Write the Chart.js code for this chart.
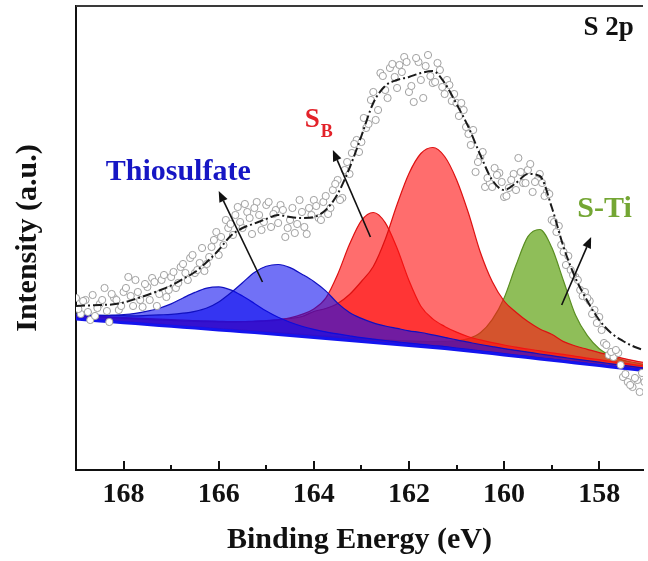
<!DOCTYPE html>
<html>
<head>
<meta charset="utf-8">
<script src="https://cdn.jsdelivr.net/npm/chart.js@4.4.1/dist/chart.umd.min.js"></script>
<style>
  html, body { margin: 0; padding: 0; background: #fff; }
  canvas { display: block; }
</style>
</head>
<body>
<canvas id="xpsChart" width="648" height="561"></canvas>
<script>
// energy grid of the fitted curves (eV)
const energy = [169, 168.75, 168.5, 168.25, 168, 167.75, 167.5, 167.25, 167, 166.75, 166.5, 166.25,
  166, 165.75, 165.5, 165.25, 165, 164.75, 164.5, 164.25, 164, 163.75, 163.5, 163.25,
  163, 162.75, 162.5, 162.25, 162, 161.75, 161.5, 161.25, 161, 160.75, 160.5, 160.25,
  160, 159.75, 159.5, 159.25, 159, 158.75, 158.5, 158.25, 158, 157.75, 157.5, 157.25, 157];

// background under the peaks
const background = [1510, 1500, 1490, 1482, 1473, 1464, 1455, 1446, 1437, 1428, 1419, 1410,
  1401, 1392, 1383, 1374, 1365, 1355, 1345, 1335, 1325, 1315, 1305, 1295,
  1285, 1275, 1265, 1255, 1245, 1235, 1225, 1215, 1203, 1190, 1177, 1164,
  1150, 1137, 1124, 1110, 1097, 1084, 1070, 1057, 1044, 1030, 1017, 1004, 990];

// fitted components, height above the background
const thioA = [39, 47, 56, 67, 82, 103, 133, 172, 224, 292, 357, 409,
  430, 409, 357, 292, 224, 172, 133, 103, 82, 67, 56, 47,
  39, 34, 30, 27, 24, 22, 20, 19, 17, 16, 15, 14,
  13, 12, 12, 11, 11, 10, 10, 9, 9, 8, 8, 7, 7];
const thioB = [49, 53, 56, 63, 70, 77, 91, 105, 119, 140, 168, 210,
  280, 378, 490, 602, 672, 700, 679, 623, 560, 476, 364, 280,
  231, 196, 175, 161, 147, 140, 126, 112, 98, 88, 78, 70,
  64, 60, 55, 50, 46, 42, 39, 36, 34, 32, 29, 28, 27];
const sbA = [39, 42, 46, 48, 52, 55, 59, 62, 66, 72, 75, 81,
  86, 91, 100, 110, 124, 143, 176, 221, 286, 403, 650, 962,
  1209, 1300, 1209, 962, 650, 403, 286, 221, 176, 143, 124, 110,
  100, 91, 86, 81, 75, 72, 66, 62, 59, 55, 52, 48, 46];
const sbB = [36, 38, 40, 42, 44, 47, 50, 54, 58, 62, 68, 74,
  80, 88, 100, 116, 130, 150, 170, 200, 260, 300, 360, 460,
  600, 760, 1040, 1400, 1720, 1930, 2000, 1920, 1700, 1380, 1000, 720,
  540, 440, 360, 300, 260, 200, 170, 150, 130, 116, 100, 88, 80];
const sTi = [8, 9, 9, 10, 10, 11, 11, 12, 12, 13, 13, 14,
  14, 15, 16, 16, 17, 18, 20, 21, 22, 23, 25, 27,
  30, 34, 36, 40, 46, 52, 60, 72, 88, 124, 195, 340,
  570, 910, 1210, 1295, 1130, 806, 480, 286, 169, 113, 82, 69, 59];

// envelope of the fit
const envelope = [1640, 1645, 1650, 1655, 1675, 1710, 1750, 1795, 1845, 1910, 1980, 2080,
  2200, 2340, 2420, 2465, 2510, 2550, 2530, 2520, 2530, 2600, 2760, 3020,
  3340, 3670, 3840, 3900, 3930, 3970, 3990, 3870, 3660, 3430, 3150, 2900,
  2800, 2870, 2960, 2940, 2630, 2230, 1920, 1690, 1500, 1370, 1290, 1230, 1190];

// measured points
const rawEnergy = [169.0, 168.9, 168.8, 168.7, 168.6, 168.5, 168.4, 168.3, 168.2, 168.1,
  168.0, 167.9, 167.8, 167.7, 167.6, 167.5, 167.4, 167.3, 167.2, 167.1,
  167.0, 166.9, 166.8, 166.7, 166.6, 166.5, 166.4, 166.3, 166.2, 166.1,
  166.0, 165.9, 165.8, 165.7, 165.6, 165.5, 165.4, 165.3, 165.2, 165.1,
  165.0, 164.9, 164.8, 164.7, 164.6, 164.5, 164.4, 164.3, 164.2, 164.1,
  164.0, 163.9, 163.8, 163.7, 163.6, 163.5, 163.4, 163.3, 163.2, 163.1,
  163.0, 162.9, 162.8, 162.7, 162.6, 162.5, 162.4, 162.3, 162.2, 162.1,
  162.0, 161.9, 161.8, 161.7, 161.6, 161.5, 161.4, 161.3, 161.2, 161.1,
  161.0, 160.9, 160.8, 160.7, 160.6, 160.5, 160.4, 160.3, 160.2, 160.1,
  160.0, 159.9, 159.8, 159.7, 159.6, 159.5, 159.4, 159.3, 159.2, 159.1,
  159.0, 158.9, 158.8, 158.7, 158.6, 158.5, 158.4, 158.3, 158.2, 158.1,
  158.0, 157.9, 157.8, 157.7, 157.6, 157.5, 157.4, 157.3, 157.2, 157.1, 157.0,
  168.95, 168.85, 168.75, 168.65, 168.55, 168.45, 168.35, 168.25, 168.15, 168.05,
  167.95, 167.85, 167.75, 167.65, 167.55, 167.45, 167.35, 167.25, 167.15, 167.05,
  166.95, 166.85, 166.75, 166.65, 166.55, 166.45, 166.35, 166.25, 166.15, 166.05,
  165.95, 165.85, 165.75, 165.65, 165.55, 165.45, 165.35, 165.25, 165.15, 165.05,
  164.95, 164.85, 164.75, 164.65, 164.55, 164.45, 164.35, 164.25, 164.15, 164.05,
  163.95, 163.85, 163.75, 163.65, 163.55, 163.45, 163.35, 163.25, 163.15, 163.05,
  162.95, 162.85, 162.75, 162.65, 162.55, 162.45, 162.35, 162.25, 162.15, 162.05,
  161.95, 161.85, 161.75, 161.65, 161.55, 161.45, 161.35, 161.25, 161.15, 161.05,
  160.95, 160.85, 160.75, 160.65, 160.55, 160.45, 160.35, 160.25, 160.15, 160.05,
  159.95, 159.85, 159.75, 159.65, 159.55, 159.45, 159.35, 159.25, 159.15, 159.05,
  158.95, 158.85, 158.75, 158.65, 158.55, 158.45, 158.35, 158.25, 158.15, 158.05,
  157.95, 157.85, 157.75, 157.65, 157.55, 157.45, 157.35, 157.25, 157.15, 157.05];
const rawCounts = [1720, 1560, 1700, 1500, 1540, 1660, 1820, 1480, 1720, 1600,
  1780, 1930, 1640, 1780, 1630, 1830, 1920, 1640, 1900, 1730,
  1930, 1820, 2030, 1970, 2120, 1970, 2070, 1990, 2130, 2300,
  2150, 2250, 2420, 2350, 2630, 2420, 2580, 2360, 2680, 2400,
  2650, 2430, 2600, 2650, 2330, 2500, 2370, 2700, 2430, 2620,
  2700, 2520, 2680, 2560, 2800, 2900, 2720, 3080, 3170, 3300,
  3280, 3420, 3700, 3500, 3970, 3800, 4020, 3930, 4050, 4130,
  3780, 3680, 4080, 3720, 4150, 3870, 4070, 3830, 3900, 3690,
  3670, 3670, 3430, 3250, 2980, 3130, 2830, 2870, 3020, 2970,
  2730, 2820, 2960, 3120, 2870, 3000, 2780, 2900, 2870, 2780,
  2500, 2380, 2250, 2050, 2000, 1930, 1800, 1780, 1690, 1600,
  1530, 1270, 1150, 1130, 1170, 930, 880, 830, 900, 970, 780,
  1610, 1690, 1580, 1750, 1620, 1700, 1590, 1760, 1700, 1640,
  1820, 1740, 1900, 1700, 1860, 1700, 1880, 1760, 1950, 1800,
  1980, 1870, 2060, 1900, 2150, 2000, 2220, 2060, 2230, 2380,
  2330, 2500, 2460, 2550, 2480, 2660, 2520, 2620, 2550, 2480,
  2680, 2560, 2470, 2600, 2420, 2620, 2460, 2580, 2360, 2550,
  2640, 2500, 2740, 2620, 2860, 2700, 3000, 2960, 3260, 3180,
  3520, 3460, 3780, 3600, 3940, 3720, 4060, 3820, 3980, 4080,
  3840, 4120, 3900, 4040, 3940, 3880, 4000, 3760, 3850, 3760,
  3540, 3600, 3360, 3400, 3080, 3180, 2920, 2830, 2950, 2880,
  2740, 2900, 2800, 2980, 2870, 3060, 2880, 2960, 2740, 2760,
  2480, 2440, 2180, 2140, 1950, 1900, 1740, 1720, 1560, 1470,
  1400, 1250, 1180, 1200, 1050, 960, 850, 920, 780, 880];

// x axis ticks (even ones labelled)
const xTicks = [168, 167, 166, 165, 164, 163, 162, 161, 160, 159, 158];

const serif = "'Liberation Serif', 'Times New Roman', serif";

const pts = (vals, base) => energy.map((e, i) => ({ x: e, y: vals[i] + (base ? base[i] : 0) }));

// text and arrows drawn over the plot, in data units
const notes = [
  { text: 'Thiosulfate', e: 168.375, v: 2900, color: '#1616c4', size: 30 },
  { text: 'S-Ti', e: 158.46, v: 2530, color: '#74a634', size: 30 },
  { text: 'S 2p', e: 158.33, v: 4350, color: '#111111', size: 27 }
];
const arrows = [
  { from: [165.08, 1880], to: [166.0, 2790] },
  { from: [162.81, 2330], to: [163.6, 3200] },
  { from: [158.79, 1650], to: [158.17, 2330] }
];

const overlay = {
  id: 'overlay',
  afterDraw(chart) {
    const { ctx, chartArea, scales: { x, y } } = chart;
    ctx.save();
    // top frame line
    ctx.strokeStyle = '#3a3a3a';
    ctx.lineWidth = 2;
    ctx.beginPath();
    ctx.moveTo(chartArea.left, chartArea.top);
    ctx.lineTo(chartArea.right, chartArea.top);
    ctx.stroke();
    // inward tick marks
    ctx.strokeStyle = '#111';
    ctx.lineWidth = 2;
    xTicks.forEach(t => {
      const px = Math.round(x.getPixelForValue(t));
      const len = t % 2 === 0 ? 9 : 5;
      ctx.beginPath();
      ctx.moveTo(px, chartArea.bottom);
      ctx.lineTo(px, chartArea.bottom - len);
      ctx.stroke();
    });
    // arrows
    ctx.strokeStyle = '#111';
    ctx.fillStyle = '#111';
    ctx.lineWidth = 1.6;
    arrows.forEach(a => {
      const x0 = x.getPixelForValue(a.from[0]), y0 = y.getPixelForValue(a.from[1]);
      const x1 = x.getPixelForValue(a.to[0]), y1 = y.getPixelForValue(a.to[1]);
      const ang = Math.atan2(y1 - y0, x1 - x0);
      const hl = 11, hw = 4.5;
      const bx = x1 - hl * Math.cos(ang), by = y1 - hl * Math.sin(ang);
      ctx.beginPath();
      ctx.moveTo(x0, y0);
      ctx.lineTo(bx, by);
      ctx.stroke();
      ctx.beginPath();
      ctx.moveTo(x1, y1);
      ctx.lineTo(bx + hw * Math.sin(ang), by - hw * Math.cos(ang));
      ctx.lineTo(bx - hw * Math.sin(ang), by + hw * Math.cos(ang));
      ctx.closePath();
      ctx.fill();
    });
    // labels
    ctx.textBaseline = 'alphabetic';
    ctx.textAlign = 'left';
    notes.forEach(n => {
      ctx.font = 'bold ' + n.size + 'px ' + serif;
      ctx.fillStyle = n.color;
      ctx.fillText(n.text, x.getPixelForValue(n.e), y.getPixelForValue(n.v));
    });
    // S with subscript B
    const sx = x.getPixelForValue(164.19), sy = y.getPixelForValue(3430);
    ctx.fillStyle = '#e3222a';
    ctx.font = 'bold 27px ' + serif;
    ctx.fillText('S', sx, sy);
    const sw = ctx.measureText('S').width;
    ctx.font = 'bold 18px ' + serif;
    ctx.fillText('B', sx + sw + 1, sy + 10);
    ctx.restore();
  }
};

const ctx = document.getElementById('xpsChart').getContext('2d');
const xpsChart = new Chart(ctx, {
  type: 'line',
  data: {
    datasets: [
      {
        label: 'Envelope',
        data: pts(envelope),
        borderColor: '#1b1b1b',
        borderWidth: 2,
        borderDash: [9, 3, 2, 3],
        pointRadius: 0,
        cubicInterpolationMode: 'monotone',
        fill: false
      },
      {
        label: 'Raw',
        data: rawEnergy.map((e, i) => ({ x: e, y: rawCounts[i] })),
        showLine: false,
        pointRadius: 3.6,
        pointBackgroundColor: '#ffffff',
        pointBorderColor: '#a0a0a0',
        pointBorderWidth: 1
      },
      {
        label: 'Background',
        data: pts(background),
        borderColor: '#1414ee',
        borderWidth: 3,
        pointRadius: 0,
        fill: false
      },
      {
        label: 'Thiosulfate 2',
        data: pts(thioB, background),
        borderColor: '#1010c0',
        borderWidth: 1.2,
        backgroundColor: 'rgba(10,10,240,0.58)',
        pointRadius: 0,
        cubicInterpolationMode: 'monotone',
        fill: 2
      },
      {
        label: 'Thiosulfate 1',
        data: pts(thioA, background),
        borderColor: '#1010c0',
        borderWidth: 1.2,
        backgroundColor: 'rgba(10,10,240,0.58)',
        pointRadius: 0,
        cubicInterpolationMode: 'monotone',
        fill: 2
      },
      {
        label: 'SB 2',
        data: pts(sbB, background),
        borderColor: '#dd1111',
        borderWidth: 1.2,
        backgroundColor: 'rgba(255,20,20,0.62)',
        pointRadius: 0,
        cubicInterpolationMode: 'monotone',
        fill: 2
      },
      {
        label: 'SB 1',
        data: pts(sbA, background),
        borderColor: '#dd1111',
        borderWidth: 1.2,
        backgroundColor: 'rgba(255,20,20,0.62)',
        pointRadius: 0,
        cubicInterpolationMode: 'monotone',
        fill: 2
      },
      {
        label: 'S-Ti',
        data: pts(sTi, background),
        borderColor: '#5a8e22',
        borderWidth: 1.2,
        backgroundColor: 'rgba(100,165,25,0.72)',
        pointRadius: 0,
        cubicInterpolationMode: 'monotone',
        fill: 2
      }
    ]
  },
  options: {
    responsive: false,
    animation: false,
    events: [],
    layout: { padding: { top: 6, left: 0, right: 0, bottom: 0 } },
    plugins: {
      legend: { display: false },
      tooltip: { enabled: false }
    },
    scales: {
      x: {
        type: 'linear',
        reverse: true,
        min: 157.08,
        max: 169,
        afterFit: s => { s.height = 91; },
        afterBuildTicks: s => { s.ticks = xTicks.map(v => ({ value: v })); },
        grid: { drawOnChartArea: false, drawTicks: false },
        border: { display: true, color: '#111', width: 2 },
        ticks: {
          padding: 8,
          color: '#111',
          font: { family: serif, size: 28, weight: 'bold' },
          callback: v => (v % 2 === 0 ? String(v) : '')
        },
        title: {
          display: true,
          text: 'Binding Energy (eV)',
          color: '#111',
          font: { family: serif, size: 30, weight: 'bold' },
          padding: { top: 0, bottom: 3 }
        }
      },
      y: {
        min: 0,
        max: 4640,
        afterFit: s => { s.width = 76; },
        grid: { drawOnChartArea: false, drawTicks: false },
        border: { display: true, color: '#111', width: 2 },
        ticks: { display: false },
        title: {
          display: true,
          text: 'Intensity (a.u.)',
          color: '#111',
          font: { family: serif, size: 30, weight: 'bold' },
          padding: { top: 10, bottom: 0 }
        }
      }
    }
  },
  plugins: [overlay]
});
</script>
</body>
</html>
